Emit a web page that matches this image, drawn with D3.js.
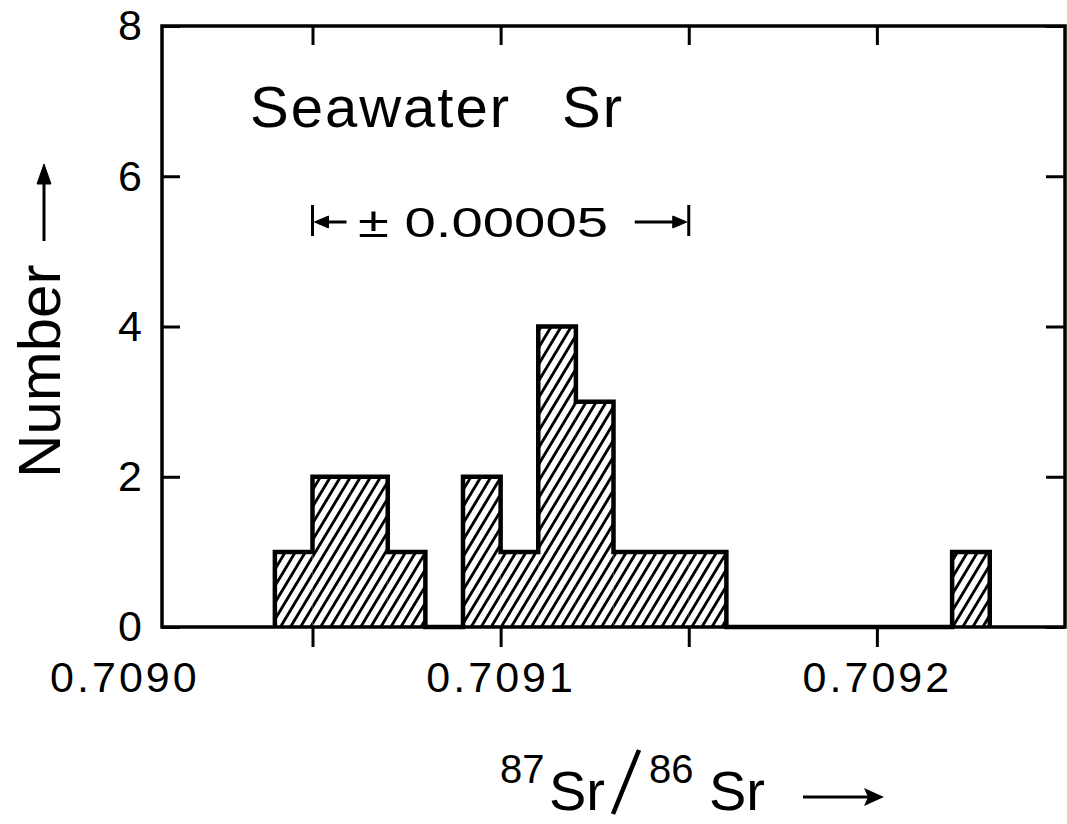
<!DOCTYPE html>
<html>
<head>
<meta charset="utf-8">
<script src="https://cdn.jsdelivr.net/npm/d3@7"></script>
<style>
  html, body { margin: 0; padding: 0; background: #fff; }
  svg { display: block; font-family: "Liberation Sans", Arial, sans-serif; }
</style>
</head>
<body>
<script>
// ---- data ----
const binStarts = [0.70904, 0.70905, 0.70906, 0.70907, 0.70908, 0.70909, 0.70910,
                   0.70911, 0.70912, 0.70913, 0.70914, 0.70915, 0.70916, 0.70917,
                   0.70918, 0.70919, 0.70920, 0.70921, 0.70922];
const counts    = [1, 2, 2, 1, 0, 2, 1, 4, 3, 1, 1, 1, 0, 0, 0, 0, 0, 0, 1];
const binWidth = 0.00001;
const xTickMarks = [0.70905, 0.7091, 0.70915, 0.7092];
const xTickLabels = [0.7090, 0.7091, 0.7092];
const yTicks = [0, 2, 4, 6, 8];
const errCenter = 0.7091;
const errHalf = 0.00005;
const title = "Seawater";
const titleSr = "Sr";
const errText = "\u00B1 0.00005";
const yLabel = "Number";

// ---- layout ----
const W = 1067, H = 824;
const pL = 162, pR = 1065, pT = 26, pB = 627;

const svg = d3.select("body").append("svg").attr("width", W).attr("height", H);

const x = d3.scaleLinear().domain([0.70901, 0.70925]).range([pL, pR]);
const y = d3.scaleLinear().domain([0, 8]).range([pB, pT]);

// hatch pattern
const defs = svg.append("defs");
const pat = defs.append("pattern")
  .attr("id", "hatch")
  .attr("patternUnits", "userSpaceOnUse")
  .attr("width", 8.6).attr("height", 8.6)
  .attr("patternTransform", "rotate(31)");
pat.append("line")
  .attr("x1", 4.3).attr("y1", -1).attr("x2", 4.3).attr("y2", 9.6)
  .attr("stroke", "#000").attr("stroke-width", 2.9);

const bins = binStarts.map((s, i) => ({ x0: s, x1: s + binWidth, n: counts[i] }));

// hatched fills
svg.append("g").selectAll("rect")
  .data(bins.filter(d => d.n > 0))
  .join("rect")
  .attr("x", d => x(d.x0))
  .attr("y", d => y(d.n))
  .attr("width", d => x(d.x1) - x(d.x0))
  .attr("height", d => y(0) - y(d.n))
  .attr("fill", "url(#hatch)");

// histogram outline (step)
const pts = [[binStarts[0], 0]]
  .concat(bins.map(d => [d.x0, d.n]))
  .concat([[bins[bins.length - 1].x1, 0]]);
const stepLine = d3.line().x(d => x(d[0])).y(d => y(d[1])).curve(d3.curveStepAfter);
svg.append("path")
  .attr("d", stepLine(pts))
  .attr("fill", "none")
  .attr("stroke", "#000")
  .attr("stroke-width", 4.5)
  .attr("stroke-linejoin", "miter");

// axes
function styleAxis(g) {
  g.select(".domain").remove();
  g.selectAll(".tick line").attr("stroke", "#000").attr("stroke-width", 3);
  g.selectAll(".tick text").attr("fill", "#000");
}

svg.append("g").attr("transform", `translate(0,${pB})`)
  .call(d3.axisBottom(x).tickValues(xTickMarks).tickSize(20).tickFormat(""))
  .call(styleAxis);

svg.append("g").attr("transform", `translate(0,${pB})`)
  .call(d3.axisBottom(x).tickValues(xTickLabels).tickSize(0).tickPadding(34).tickFormat(d3.format(".4f")))
  .call(styleAxis)
  .call(g => g.selectAll(".tick text")
    .attr("font-size", 43)
    .attr("letter-spacing", 3)
    .attr("font-family", "Liberation Sans, Arial, sans-serif"));

svg.append("g").attr("transform", `translate(0,${pT})`)
  .call(d3.axisTop(x).tickValues(xTickMarks).tickSize(-19).tickFormat(""))
  .call(styleAxis);

svg.append("g").attr("transform", `translate(${pL},0)`)
  .call(d3.axisLeft(y).tickValues(yTicks).tickSize(-18).tickPadding(20).tickFormat(d3.format("d")))
  .call(styleAxis)
  .call(g => g.selectAll(".tick text")
    .attr("font-size", 43)
    .attr("font-family", "Liberation Sans, Arial, sans-serif"));

svg.append("g").attr("transform", `translate(${pR},0)`)
  .call(d3.axisRight(y).tickValues(yTicks).tickSize(-19).tickFormat(""))
  .call(styleAxis);

// frame
svg.append("rect")
  .attr("x", pL).attr("y", pT)
  .attr("width", pR - pL).attr("height", pB - pT)
  .attr("fill", "none").attr("stroke", "#000").attr("stroke-width", 3.5);

// title
svg.append("text")
  .attr("x", 250).attr("y", 127)
  .attr("font-size", 58).attr("letter-spacing", 2)
  .text(title);
svg.append("text")
  .attr("x", 562).attr("y", 127)
  .attr("font-size", 58).attr("letter-spacing", 2)
  .text(titleSr);

// ± error bar annotation
const ey = 222;
const exL = x(errCenter - errHalf), exR = x(errCenter + errHalf);
const ann = svg.append("g").attr("stroke", "#000").attr("fill", "#000");
ann.append("line").attr("x1", exL).attr("x2", exL).attr("y1", ey - 17).attr("y2", ey + 14).attr("stroke-width", 3);
ann.append("line").attr("x1", exR).attr("x2", exR).attr("y1", ey - 17).attr("y2", ey + 14).attr("stroke-width", 3);
ann.append("line").attr("x1", exL + 10).attr("x2", exL + 34).attr("y1", ey).attr("y2", ey).attr("stroke-width", 3);
ann.append("path").attr("d", `M${exL + 2},${ey} L${exL + 16},${ey - 6} L${exL + 16},${ey + 6} Z`).attr("stroke-width", 1);
ann.append("line").attr("x1", exR - 54).attr("x2", exR - 12).attr("y1", ey).attr("y2", ey).attr("stroke-width", 3);
ann.append("path").attr("d", `M${exR - 2},${ey} L${exR - 16},${ey - 6} L${exR - 16},${ey + 6} Z`).attr("stroke-width", 1);
svg.append("text")
  .attr("x", 358).attr("y", 237)
  .attr("font-size", 43)
  .attr("textLength", 250).attr("lengthAdjust", "spacingAndGlyphs")
  .text(errText);

// y-axis label
svg.append("text")
  .attr("transform", "translate(60,478) rotate(-90)")
  .attr("font-size", 60)
  .text(yLabel);
const ya = svg.append("g").attr("stroke", "#000").attr("fill", "#000");
ya.append("line").attr("x1", 44).attr("x2", 44).attr("y1", 241).attr("y2", 180).attr("stroke-width", 3);
ya.append("path").attr("d", "M44,164 L37,184 L51,184 Z").attr("stroke-width", 1);

// x-axis label
const xl = svg.append("g");
xl.append("text").attr("x", 500).attr("y", 783).attr("font-size", 40).text("87");
xl.append("text").attr("x", 549).attr("y", 810).attr("font-size", 56).text("Sr");
xl.append("line").attr("x1", 613).attr("y1", 814).attr("x2", 639).attr("y2", 750)
  .attr("stroke", "#000").attr("stroke-width", 4.5);
xl.append("text").attr("x", 649).attr("y", 783).attr("font-size", 40).text("86");
xl.append("text").attr("x", 709).attr("y", 810).attr("font-size", 56).text("Sr");
xl.append("line").attr("x1", 803).attr("x2", 868).attr("y1", 797).attr("y2", 797)
  .attr("stroke", "#000").attr("stroke-width", 3);
xl.append("path").attr("d", "M884,797 L864,788 L868,797 L864,806 Z").attr("fill", "#000");
</script>
</body>
</html>
